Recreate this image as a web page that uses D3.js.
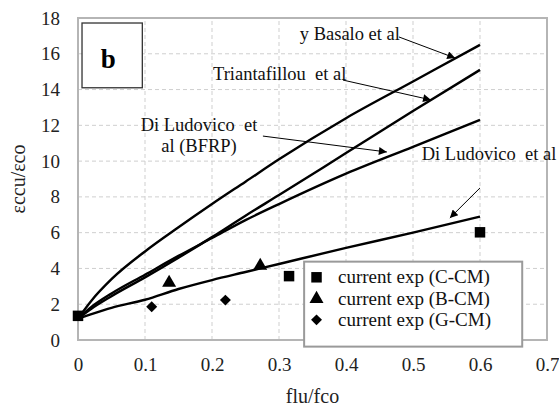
<!DOCTYPE html>
<html>
<head>
<meta charset="utf-8">
<script src="https://cdn.jsdelivr.net/npm/d3@7"></script>
<style>
  html, body { margin: 0; padding: 0; background: #fff; }
  svg { display: block; }
  svg text { font-family: "Liberation Serif", serif; white-space: pre; }
</style>
</head>
<body>
<svg id="chart" width="559" height="413"></svg>
<script>
// ---- data ----
const xTicks = [0, 0.1, 0.2, 0.3, 0.4, 0.5, 0.6, 0.7];
const yTicks = [0, 2, 4, 6, 8, 10, 12, 14, 16, 18];
const xTickLabels = ["0", "0.1", "0.2", "0.3", "0.4", "0.5", "0.6", "0.7"];
const yTickLabels = ["0", "2", "4", "6", "8", "10", "12", "14", "16", "18"];

const curveX = [0, 0.02, 0.05, 0.1, 0.15, 0.2, 0.25, 0.3, 0.4, 0.5, 0.6];
const basalo        = [1.2, 2.2, 3.4, 4.95, 6.3, 7.6, 8.85, 10.1, 12.4, 14.45, 16.5];
const triantafillou = [1.2, 1.75, 2.45, 3.5, 4.6, 5.75, 6.95, 8.1, 10.45, 12.8, 15.1];
const diLudBFRP     = [1.2, 1.85, 2.6, 3.65, 4.7, 5.7, 6.7, 7.6, 9.3, 10.8, 12.3];
const diLud         = [1.2, 1.45, 1.8, 2.25, 2.85, 3.35, 3.8, 4.25, 5.15, 6.0, 6.9];

const expC_x = [0, 0.315, 0.6];
const expC_y = [1.35, 3.57, 6.02];
const expB_x = [0.136, 0.272];
const expB_y = [3.2, 4.15];
const expG_x = [0.11, 0.22];
const expG_y = [1.86, 2.23];

const legendLabels = ["current exp (C-CM)", "current exp (B-CM)", "current exp (G-CM)"];

const annotations = [
  { lines: ["y Basalo et al"], x: 0.331, ys: [16.77], anchor: "start", from: [0.479, 16.94], to: [0.563, 15.76] },
  { lines: ["Triantafillou  et al"], x: 0.2015, ys: [14.53], anchor: "start", from: [0.3955, 14.53], to: [0.527, 13.42] },
  { lines: ["Di Ludovico  et", "al (BFRP)"], x: 0.1806, ys: [11.68, 10.51], anchor: "middle", from: [0.276, 11.40], to: [0.461, 10.51] },
  { lines: ["Di Ludovico  et al"], x: 0.513, ys: [10.06], anchor: "start", from: [0.6, 8.50], to: [0.555, 6.82] }
];

// ---- chart ----
const FONT = "'Liberation Serif', serif";
const svg = d3.select("#chart");
const x = d3.scaleLinear().domain([0, 0.7]).range([78, 547]);
const y = d3.scaleLinear().domain([0, 18]).range([340, 18]);

// grid
const grid = svg.append("g");
grid.selectAll("line.v").data(xTicks.slice(1, -1)).enter().append("line")
  .attr("x1", d => x(d)).attr("x2", d => x(d)).attr("y1", y(0)).attr("y2", y(18))
  .attr("stroke", "#cfcfcf").attr("stroke-width", 1).attr("stroke-dasharray", "4,3");
grid.selectAll("line.h").data(yTicks.slice(1, -1)).enter().append("line")
  .attr("y1", d => y(d)).attr("y2", d => y(d)).attr("x1", x(0)).attr("x2", x(0.7))
  .attr("stroke", "#cfcfcf").attr("stroke-width", 1).attr("stroke-dasharray", "4,3");

// border
svg.append("rect").attr("x", x(0)).attr("y", y(18)).attr("width", x(0.7) - x(0)).attr("height", y(0) - y(18))
  .attr("fill", "none").attr("stroke", "#b5b5b5").attr("stroke-width", 2);

// axes via d3
const xAxis = d3.axisBottom(x).tickValues(xTicks).tickFormat((d, i) => xTickLabels[i]).tickSize(0).tickPadding(18);
const yAxis = d3.axisLeft(y).tickValues(yTicks).tickFormat((d, i) => yTickLabels[i]).tickSize(0).tickPadding(18);
const gx = svg.append("g").attr("transform", `translate(0,${y(0)})`).call(xAxis);
const gy = svg.append("g").attr("transform", `translate(${x(0)},0)`).call(yAxis);
[gx, gy].forEach(g => {
  g.attr("font-family", FONT).attr("font-size", 19);
  g.select(".domain").remove();
  g.selectAll("text").style("font-family", FONT).attr("font-size", 19).attr("fill", "#222");
});

// axis titles
svg.append("text").attr("x", (x(0) + x(0.7)) / 2).attr("y", 403).attr("text-anchor", "middle")
  .style("font-family", FONT).attr("font-size", 20).attr("fill", "#222").text("flu/fco");
svg.append("text").attr("transform", `translate(25,${(y(0) + y(18)) / 2}) rotate(-90)`).attr("text-anchor", "middle")
  .style("font-family", FONT).attr("font-size", 20).attr("fill", "#222").text("εccu/εco");

// curves
const line = d3.line().x(d => x(d[0])).y(d => y(d[1])).curve(d3.curveMonotoneX);
[basalo, triantafillou, diLudBFRP, diLud].forEach(vals => {
  svg.append("path").datum(curveX.map((cx, i) => [cx, vals[i]]))
    .attr("d", line).attr("fill", "none").attr("stroke", "#000").attr("stroke-width", 2.4);
});

// markers
const squarePath = d3.symbol().type(d3.symbolSquare).size(110)();
const trianglePath = d3.symbol().type(d3.symbolTriangle).size(85)();
const diamondPath = d3.symbol().type(d3.symbolSquare).size(60)();
function drawPts(xs, ys, p, rot) {
  svg.append("g").selectAll("path").data(xs.map((d, i) => [d, ys[i]])).enter().append("path")
    .attr("transform", d => `translate(${x(d[0])},${y(d[1])}) rotate(${rot})`).attr("d", p).attr("fill", "#000");
}
drawPts(expC_x, expC_y, squarePath, 0);
drawPts(expB_x, expB_y, trianglePath, 0);
drawPts(expG_x, expG_y, diamondPath, 45);

// annotations
const defs = svg.append("defs");
defs.append("marker").attr("id", "arr").attr("viewBox", "0 0 10 10").attr("refX", 10).attr("refY", 5)
  .attr("markerWidth", 11).attr("markerHeight", 8).attr("markerUnits", "userSpaceOnUse").attr("orient", "auto")
  .append("path").attr("d", "M0,0 L10,5 L0,10 Z").attr("fill", "#000");
annotations.forEach(a => {
  a.lines.forEach((t, i) => {
    svg.append("text").attr("x", x(a.x)).attr("y", y(a.ys[i])).attr("text-anchor", a.anchor)
      .style("font-family", FONT).attr("font-size", 18.5).attr("fill", "#111").text(t);
  });
  svg.append("line").attr("x1", x(a.from[0])).attr("y1", y(a.from[1])).attr("x2", x(a.to[0])).attr("y2", y(a.to[1]))
    .attr("stroke", "#000").attr("stroke-width", 1).attr("marker-end", "url(#arr)");
});

// "b" panel box
svg.append("rect").attr("x", x(0.006)).attr("y", y(17.72)).attr("width", x(0.096) - x(0.006)).attr("height", y(14.1) - y(17.72))
  .attr("fill", "#fff").attr("stroke", "#333").attr("stroke-width", 1.3);
svg.append("text").attr("x", x(0.045)).attr("y", y(15.2)).attr("text-anchor", "middle")
  .style("font-family", FONT).attr("font-size", 27).attr("font-weight", "bold").attr("fill", "#000").text("b");

// legend
const lg = svg.append("g");
lg.append("rect").attr("x", x(0.3375)).attr("y", y(4.38)).attr("width", x(0.663) - x(0.3375)).attr("height", y(-0.37) - y(4.38))
  .attr("fill", "#fff").attr("stroke", "#9a9a9a").attr("stroke-width", 2);
const legPaths = [[squarePath, 0], [trianglePath, 0], [diamondPath, 45]];
const legRowY = [3.17, 1.96, 0.79];
legendLabels.forEach((t, i) => {
  lg.append("path").attr("transform", `translate(${x(0.356)},${y(legRowY[i]) - 6}) rotate(${legPaths[i][1]})`)
    .attr("d", legPaths[i][0]).attr("fill", "#000");
  lg.append("text").attr("x", x(0.388)).attr("y", y(legRowY[i])).style("font-family", FONT)
    .attr("font-size", 19).attr("fill", "#111").text(t);
});
</script>
</body>
</html>
